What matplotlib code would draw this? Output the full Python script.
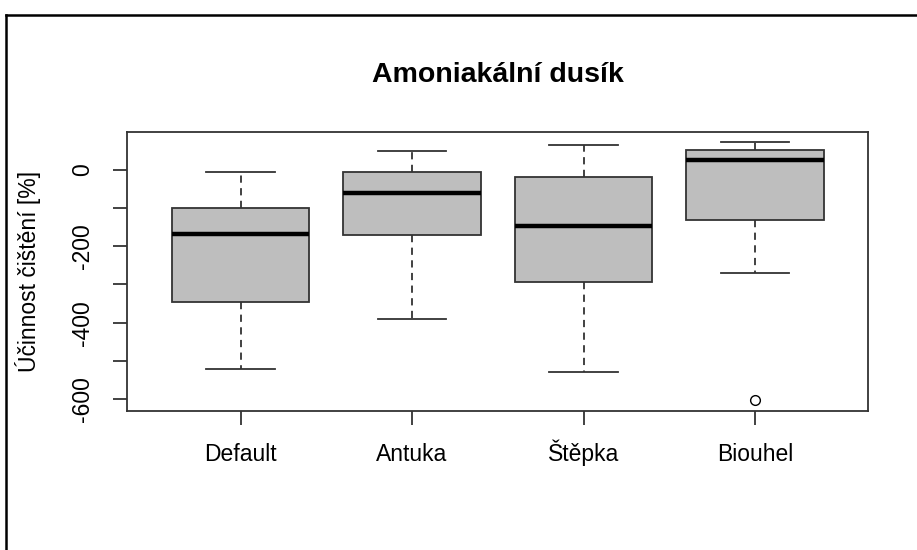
import matplotlib
matplotlib.use("Agg")
import matplotlib.pyplot as plt
from matplotlib.lines import Line2D

plt.rcParams['font.family'] = ['Liberation Sans', 'DejaVu Sans']

# Group names and five-number summaries (plus outliers)
groups = ["Default", "Antuka", "Štěpka", "Biouhel"]
whisker_low = [-521, -391, -528, -271]
q1 = [-345, -172, -294, -133]
median = [-169, -62, -148, 24]
q3 = [-101, -7, -19, 52]
whisker_high = [-7, 48, 64, 71]
outliers = [[], [], [], [-603]]

y_ticks = [-600, -500, -400, -300, -200, -100, 0]
y_tick_labels = ["-600", "", "-400", "", "-200", "", "0"]

stats = []
for name, lo, a, m, b, hi, fl in zip(groups, whisker_low, q1, median, q3,
                                     whisker_high, outliers):
    stats.append(dict(label=name, whislo=lo, q1=a, med=m, q3=b, whishi=hi,
                      fliers=fl))

W, H = 917, 550
fig = plt.figure(figsize=(W / 100, H / 100), dpi=100)
ax_l, ax_r, ax_t, ax_b = 127.3, 868.3, 132.0, 410.7
ax = fig.add_axes([ax_l / W, 1 - ax_b / H, (ax_r - ax_l) / W, (ax_b - ax_t) / H])

edge = "#333333"
ax.bxp(stats, positions=range(1, len(groups) + 1), widths=0.8,
       patch_artist=True, manage_ticks=False,
       boxprops=dict(facecolor="#bebebe", edgecolor=edge, linewidth=1.3),
       medianprops=dict(color="black", linewidth=3.2, solid_capstyle="butt"),
       whiskerprops=dict(color=edge, linewidth=1.3, linestyle=(0, (4, 3))),
       capprops=dict(color=edge, linewidth=1.3),
       capwidths=0.4,
       flierprops=dict(marker="o", markersize=7, markerfacecolor="white",
                       markeredgecolor="black", markeredgewidth=1.0))

all_vals = whisker_low + whisker_high + [v for f in outliers for v in f]
lo, hi = min(all_vals), max(all_vals)
span = hi - lo
ax.set_ylim(lo - 0.04 * span, hi + 0.04 * span)
ax.set_xlim(0.5 - 0.04 * 4, 4.5 + 0.04 * 4)

ax.set_xticks(range(1, len(groups) + 1))
ax.set_xticklabels(groups, fontsize=16.5, va="baseline")
ax.set_yticks(y_ticks)
ax.set_yticklabels(y_tick_labels, fontsize=16.5, rotation=90, va="center")
ax.tick_params(axis="both", length=10, width=1.3, color=edge)
ax.tick_params(axis="x", pad=26.5)
ax.tick_params(axis="y", pad=14)

for sp in ax.spines.values():
    sp.set_linewidth(1.3)
    sp.set_color(edge)

fig.text(28 / W, 1 - (ax_t + ax_b) / 2 / H, "Účinnost čištění [%]",
         fontsize=16.5, rotation=90, ha="center", va="center")
fig.text((ax_l + ax_r) / 2 / W, 1 - 75 / H, "Amoniakální dusík",
         fontsize=20.5, fontweight="bold", ha="center", va="center")

# window frame along the top and left edges
fig.add_artist(Line2D([5.5 / W, 1], [1 - 14.5 / H, 1 - 14.5 / H],
                      transform=fig.transFigure, color="black", linewidth=1.8))
fig.add_artist(Line2D([5.5 / W, 5.5 / W], [0, 1 - 14.5 / H],
                      transform=fig.transFigure, color="black", linewidth=1.8))

fig.savefig("out.png", dpi=100)
